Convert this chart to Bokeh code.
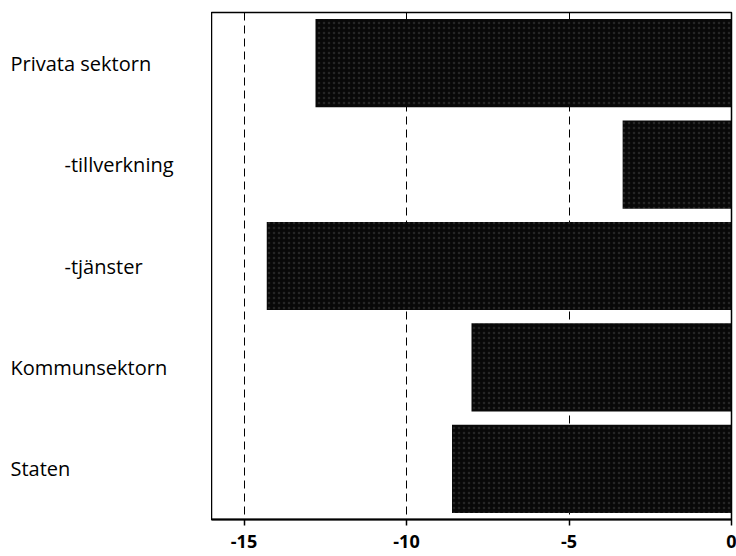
from bokeh.plotting import figure
from bokeh.models import Range1d, FixedTicker, ColumnDataSource
from bokeh.layouts import row
from bokeh.core.properties import value
from bokeh.embed import file_html
from bokeh.resources import INLINE

categories = ["Privata sektorn", "-tillverkning", "-tjänster", "Kommunsektorn", "Staten"]
values = [-12.8, -3.35, -14.3, -8.0, -8.6]
x_ticks = [-15, -10, -5, 0]
x_tick_labels = ["-15", "-10", "-5", "0"]
grid_ticks = [-15, -10, -5]

label_indent = [10, 64, 64, 10, 10]  # px within the label panel

ypos = list(range(len(categories)))
yr = Range1d(4.5, -0.5)
src = ColumnDataSource(dict(y=ypos, right=values, name=categories, ind=label_indent))

PANEL_W = 211

# label panel
lp = figure(width=PANEL_W, height=556, output_backend="svg", toolbar_location=None,
            x_range=Range1d(0, PANEL_W), y_range=yr, x_axis_type=None, y_axis_type=None,
            min_border_left=0, min_border_right=0, min_border_top=12, min_border_bottom=37)
lp.outline_line_color = None
lp.grid.visible = False
lp.text(x="ind", y="y", text="name", source=src, text_baseline="middle", text_align="left",
        text_font=value("Open Sans"), text_font_size=value("20px"), text_color="black")

# chart
p = figure(width=736 - PANEL_W, height=556, output_backend="svg", toolbar_location=None,
           x_range=Range1d(-16.0, 0), y_range=yr,
           min_border_left=0, min_border_right=5, min_border_top=12, min_border_bottom=37)

p.hbar(y="y", left=0, right="right", height=0.87, source=src,
       fill_color="#080808", line_color=None,
       hatch_pattern="dot", hatch_color="#9a9a9a", hatch_alpha=0.2,
       hatch_scale=5, hatch_weight=1)

p.yaxis.visible = False
p.ygrid.visible = False
p.xgrid.ticker = FixedTicker(ticks=grid_ticks)
p.xgrid.grid_line_color = "black"
p.xgrid.grid_line_dash = "8 5"
p.xgrid.grid_line_width = 1

ax = p.xaxis[0]
ax.ticker = FixedTicker(ticks=x_ticks)
ax.major_label_overrides = {t: s for t, s in zip(x_ticks, x_tick_labels)}
ax.axis_line_width = 2
ax.axis_line_color = "black"
ax.major_tick_in = 0
ax.major_tick_out = 6
ax.major_tick_line_width = 1.5
ax.minor_tick_line_color = None
ax.major_label_standoff = 9
ax.major_label_text_font = "Open Sans"
ax.major_label_text_font_style = "bold"
ax.major_label_text_font_size = "18px"
ax.major_label_text_color = "black"

p.outline_line_color = "black"
p.outline_line_width = 1.5
p.outline_line_alpha = 1

layout = row(lp, p, spacing=0)
open("out.html", "w").write(file_html(layout, INLINE))
